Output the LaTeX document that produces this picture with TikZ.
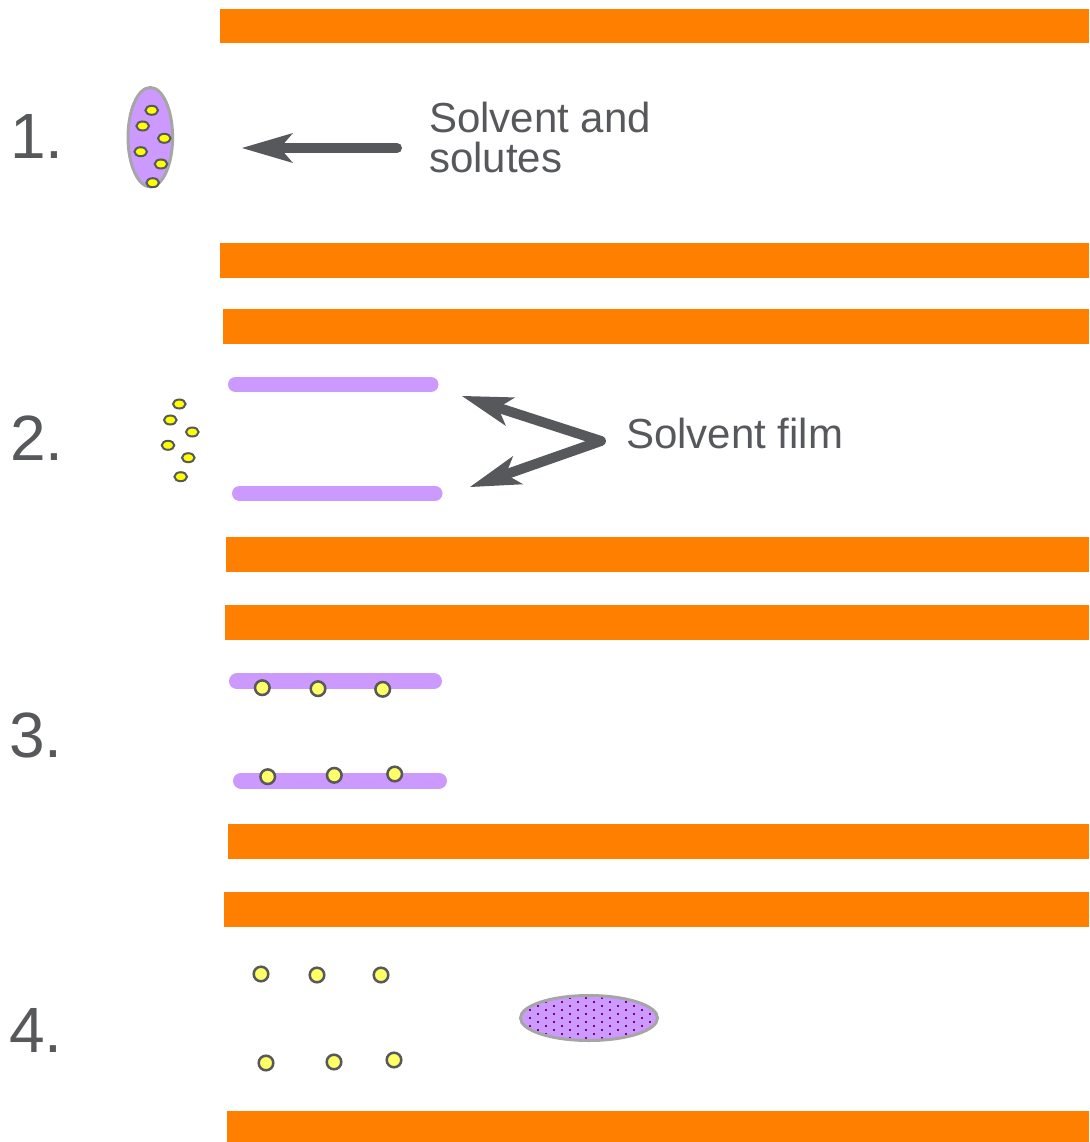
\documentclass[tikz,border=0pt]{standalone}
\usepackage{fontspec}
\setmainfont{Liberation Sans}
\usetikzlibrary{arrows.meta}

\definecolor{plate}{HTML}{FF8000}
\definecolor{film}{HTML}{CC99FF}
\definecolor{rim}{HTML}{A6A6A6}
\definecolor{ink}{HTML}{56585C}
\definecolor{solute}{HTML}{FFFF00}
\definecolor{solutelt}{HTML}{FFFF66}
\definecolor{speck}{HTML}{800080}

\tikzset{
  plate/.style={fill=plate, draw=none},
  filmline/.style={draw=film, line width=15pt, line cap=round},
  drop/.style={fill=film, draw=rim, line width=3pt},
  grain/.style={fill=solute, draw=ink, line width=2pt},
  bead/.style={fill=solutelt, draw=ink, line width=2.5pt},
  stepnum/.style={text=ink, font=\fontsize{64}{64}\selectfont, inner sep=0pt, anchor=base west},
  callout/.style={text=ink, font=\fontsize{42}{40}\selectfont, inner sep=0pt, align=left, anchor=base west},
  pointer/.style={draw=ink, line width=10pt, line cap=round, line join=round,
    -{Stealth[length=51pt, width=30pt, inset=13pt, line width=0pt]}},
  pointerboth/.style={draw=ink, line width=10pt, line join=round,
    {Stealth[length=51pt, width=30pt, inset=13pt, line width=0pt]}-{Stealth[length=51pt, width=30pt, inset=13pt, line width=0pt]}},
}

\begin{document}
\begin{tikzpicture}[x=1pt, y=-1pt]
  \useasboundingbox (0,0) rectangle (1089,1142);

  % plates bounding each stage
  \fill[plate] (220,9)    rectangle (1089,43.5);
  \fill[plate] (220,243)  rectangle (1089,277.5);
  \fill[plate] (223,309)  rectangle (1089,343.5);
  \fill[plate] (226,537)  rectangle (1089,571.5);
  \fill[plate] (225,605)  rectangle (1089,639.5);
  \fill[plate] (228,824)  rectangle (1089,858.5);
  \fill[plate] (224,892)  rectangle (1089,926.5);
  \fill[plate] (227,1110.5) rectangle (1089,1142);

  % stage numbers
  \node[stepnum] (n1) at (10,159) {1.};
  \node[stepnum] (n2) at (10,460) {2.};
  \node[stepnum] (n3) at (9,757)  {3.};
  \node[stepnum] (n4) at (9,1052) {4.};

  % stage 1: droplet carrying solutes
  \draw[drop] (150.3,137.2) ellipse [x radius=22.3pt, y radius=49.7pt];
  \foreach \p in {(151.7,110.3),(142.7,126),(164.3,138.3),(140.7,151.7),(161,164),(152.7,182.7)}
    \draw[grain] \p ellipse [x radius=6.3pt, y radius=4.5pt];

  % the base anchor of a two-line node sits on its last line
  \node[callout] (lab1) at (429,173) {Solvent and\\solutes};
  \coordinate (p1s) at (397,148);
  \coordinate (p1e) at (242,148);
  \draw[pointer] (p1s) -- (p1e);

  % stage 2: solvent spread into films, solutes released
  \draw[filmline] (235.5,384.5) -- (431,384.5);
  \draw[filmline] (239.5,493.5) -- (435,493.5);
  \foreach \p in {(179.3,404),(170.3,420),(192.3,432),(168,445.3),(188.3,457.7),(180.7,476.7)}
    \draw[grain] \p ellipse [x radius=6.3pt, y radius=4.5pt];

  \node[callout] (lab2) at (626,448) {Solvent film};
  \coordinate (p2v) at (601,441);
  \coordinate (p2a) at (462,396);
  \coordinate (p2b) at (470,487);
  \draw[pointerboth] (p2a) -- (p2v) -- (p2b);

  % stage 3: solutes settled on the films
  \draw[filmline, line width=16pt] (237,681.3) -- (434,681.3);
  \draw[filmline, line width=16pt] (241,780.7) -- (439,780.7);
  \foreach \p in {(262.3,687.7),(318,688.7),(382.7,689.3),(267.7,776.7),(334.3,775.3),(394.7,774)}
    \draw[bead] \p circle [radius=7.3pt];

  % stage 4: solutes left behind, solvent regathered
  \foreach \p in {(261,974),(317,975),(381,975),(266,1063),(334,1062),(394,1060)}
    \draw[bead] \p circle [radius=7.3pt];

  \fill[film] (589,1018) ellipse [x radius=68.5pt, y radius=22.5pt];
  \begin{scope}
    \clip (589,1018) ellipse [x radius=67pt, y radius=21pt];
    \foreach \r in {-6,...,6} {
      \pgfmathsetmacro{\yy}{1018+4*\r}
      \pgfmathsetmacro{\xoff}{mod(abs(\r),2)==0 ? 0 : 8}
      \foreach \c in {-5,...,5}
        \fill[speck] ({577.7-\xoff+16*\c-1},{\yy-1}) rectangle +(2,2);
    }
  \end{scope}
  \draw[rim, line width=3pt] (589,1018) ellipse [x radius=68.5pt, y radius=22.5pt];
\end{tikzpicture}
\end{document}
